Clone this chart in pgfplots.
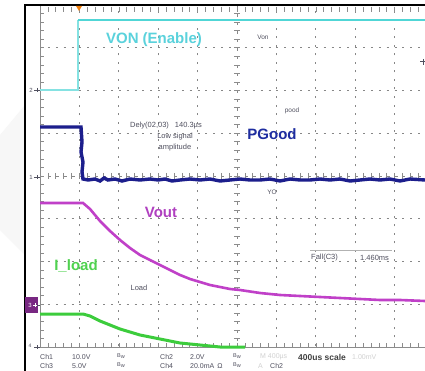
\documentclass[border=0pt]{standalone}
\usepackage{pgfplots}
\pgfplotsset{compat=1.18}
\usepackage{fontspec}
\setmainfont{Liberation Sans}
\definecolor{cyantr}{RGB}{80,214,214}
\definecolor{cyanlbl}{RGB}{90,210,220}
\definecolor{navytr}{RGB}{28,30,140}
\definecolor{navylbl}{RGB}{30,45,160}
\definecolor{magtr}{RGB}{192,64,200}
\definecolor{maglbl}{RGB}{176,64,192}
\definecolor{greentr}{RGB}{60,204,60}
\definecolor{greenlbl}{RGB}{80,210,80}
\definecolor{gridc}{RGB}{135,135,135}
\definecolor{axc}{RGB}{140,140,140}
\definecolor{txt}{RGB}{80,80,95}
\definecolor{boxpurple}{RGB}{120,40,130}
\begin{document}
\begin{tikzpicture}
\useasboundingbox (0pt,0pt) rectangle (425pt,-371pt);
\fill[white] (0pt,0pt) rectangle (425pt,-371pt);
\begin{scope}[x=1pt,y=-1pt]
  % faint background shading at left
  \fill[black!3] (0,135) -- (25,105) -- (25,255) -- (0,230) -- cycle;
  % dotted grid
  \foreach \i in {1,2,3,4,6,7,8,9} {
    \draw[gridc, line width=1pt, dash pattern=on 2pt off 6.55pt] ({40+39.4*\i},346) -- ({40+39.4*\i},5);
  }
  \foreach \j in {1,2,3,5,6,7} {
    \draw[gridc, line width=1pt, dash pattern=on 2pt off 5.88pt] (40,{347-42.75*\j}) -- (425,{347-42.75*\j});
  }
  % center lines
  \draw[gridc, line width=0.7pt, dash pattern=on 3pt off 5.55pt] (237,5) -- (237,347);
  \draw[gridc, line width=0.7pt, dash pattern=on 3pt off 4.88pt] (40,176) -- (425,176);
  \foreach \k in {0,...,40} {
    \draw[axc, line width=0.6pt] (234,{347-8.55*\k}) -- (240,{347-8.55*\k});
  }
  \foreach \k in {0,...,49} {
    \draw[axc, line width=0.6pt] ({40+7.88*\k},173) -- ({40+7.88*\k},179);
  }
  % frame edges of grid
  \draw[axc, line width=0.7pt] (40,5) -- (40,347);
  \draw[axc, line width=0.7pt] (40,347) -- (425,347);
  \foreach \k in {0,...,40} {
    \draw[axc, line width=0.6pt] (40,{347-8.55*\k}) -- (44,{347-8.55*\k});
  }
  \foreach \k in {0,...,49} {
    \draw[axc, line width=0.6pt] ({40+7.88*\k},347) -- ({40+7.88*\k},343);
    \draw[axc, line width=0.6pt] ({40+7.88*\k},7) -- ({40+7.88*\k},12);
  }
  % outer black frame
  \draw[black, line width=2pt] (25,371) -- (25,5) -- (425,5);
  % trigger marker
  \fill[orange!80!brown] (76,6) -- (82,6) -- (79,11) -- cycle;
\end{scope}

\begin{axis}[at={(40pt,-347pt)}, anchor=south west, scale only axis,
  width=385pt, height=342pt, xmin=40, xmax=425, ymin=0, ymax=342,
  hide axis, clip=false]
% VON (Enable)
\addplot[cyantr!70, line width=1.4pt] coordinates {(40,257) (78,257) (78,327)};
\addplot[cyantr, line width=2.6pt] coordinates {(78,327) (425,327)};
% PGood
\addplot[navytr, line width=3.4pt] coordinates {
(40,220) (81,220) (82,205) (81,195) (83,185) (82,175) (83,168) (88,167) (95,168)
(100,166) (104,169) (108,167) (115,168) (122,166) (130,168) (140,167) (150,168)
(158,167) (165,168) (172,166) (180,167) (190,168) (200,167) (210,168) (220,166)
(230,167) (240,168) (250,167) (260,167) (270,168) (280,166) (290,168) (300,167)
(310,167) (320,168) (330,167) (340,168) (350,166) (360,167) (370,168) (380,167)
(390,168) (400,166) (410,168) (425,167)};
% Vout
\addplot[magtr, line width=2.6pt] coordinates {
(40,144) (83,144) (90,138) (100,126) (110,116) (120,107) (130,99) (140,92)
(150,87) (160,82) (170,77) (180,72) (190,68) (200,65) (210,62) (220,60)
(230,58) (240,57) (260,54) (280,52) (300,51) (320,50) (340,49) (360,48)
(380,47) (400,47) (425,46)};
% I_load
\addplot[greentr, line width=3pt] coordinates {
(40,33) (83,33) (90,31) (100,26) (110,22) (120,18) (130,15) (140,12)
(150,10) (160,8) (170,6) (180,4) (190,3) (200,2) (210,1) (220,0) (245,0)};
\end{axis}

\begin{scope}[x=1pt,y=-1pt]
  % channel markers
  \node[font=\fontsize{6}{6}\selectfont, text=txt] at (31,90) {2};
  \draw[txt, line width=0.6pt] (34,90) -- (40,90); \draw[txt, line width=0.6pt] (37,88) -- (37,92);
  \node[font=\fontsize{6}{6}\selectfont, text=txt] at (31,177) {1};
  \draw[txt, line width=0.6pt] (34,177) -- (40,177); \draw[txt, line width=0.6pt] (37,175) -- (37,179);
  \fill[boxpurple] (25,297) rectangle (38,313);
  \node[font=\fontsize{6}{6}\selectfont, text=white] at (30,305) {3};
  \draw[white, line width=0.6pt] (33,305) -- (37,305); \draw[white, line width=0.6pt] (35,303) -- (35,307);
  \draw[txt, line width=0.6pt] (37,305) -- (40,305);
  \node[font=\fontsize{5}{5}\selectfont, text=txt] at (30,346) {4};
  \draw[txt, line width=0.6pt] (34,347) -- (40,347); \draw[txt, line width=0.6pt] (37,345) -- (37,349);
  \draw[txt, line width=1pt] (420,62) -- (425,62); \draw[txt, line width=1pt] (423,59) -- (423,65);
  % big labels
  \node[font=\fontsize{15}{15}\selectfont\bfseries, text=cyanlbl] at (154,40) {VON (Enable)};
  \node[font=\fontsize{15}{15}\selectfont\bfseries, text=navylbl] at (272,134) {PGood};
  \node[font=\fontsize{15}{15}\selectfont\bfseries, text=maglbl] at (161,212) {Vout};
  \node[font=\fontsize{15}{15}\selectfont\bfseries, text=greenlbl] at (76,266) {I\_load};
  % small labels
  \node[font=\fontsize{6.5}{6.5}\selectfont, text=txt] at (263,37) {Von};
  \node[font=\fontsize{6.5}{6.5}\selectfont, text=txt] at (292,111) {pood};
  \node[font=\fontsize{7.5}{7.5}\selectfont, text=txt, anchor=west, inner sep=0pt] at (130,126) {Dely(02,03)\hspace{6pt}140.3µs};
  \node[font=\fontsize{7.5}{7.5}\selectfont, text=txt] at (175,137) {Low signal};
  \node[font=\fontsize{7.5}{7.5}\selectfont, text=txt] at (175,148) {amplitude};
  \node[font=\fontsize{6.5}{6.5}\selectfont, text=txt] at (272,192) {YO};
  \node[font=\fontsize{7.5}{7.5}\selectfont, text=txt] at (139,288) {Load};
  \draw[gray!60, line width=0.5pt] (310,250) -- (392,250);
  \node[font=\fontsize{7.5}{7.5}\selectfont, text=txt, anchor=west, inner sep=0pt] at (311,258) {Fall(C3)};
  \node[font=\fontsize{7.5}{7.5}\selectfont, text=txt, anchor=west, inner sep=0pt] at (360,258) {1.460ms};
  % bottom readout
  \begin{scope}[every node/.style={font=\fontsize{7}{7}\selectfont, text=txt, anchor=west, inner sep=0pt}]
    \node at (40,357) {Ch1};
    \node at (72,357) {10.0V};
    \node[font=\fontsize{5.5}{5.5}\selectfont] at (117,356) {B\raisebox{-1pt}{w}};
    \node at (160,357) {Ch2};
    \node at (190,357) {2.0V};
    \node[font=\fontsize{5.5}{5.5}\selectfont] at (233,356) {B\raisebox{-1pt}{w}};
    \node[text=black!18] at (260,357) {M 400µs};
    \node[font=\fontsize{8.5}{8.5}\selectfont\bfseries, text=black!75] at (298,357) {400us scale};
    \node[text=black!18] at (352,357) {1.00mV};
    \node at (40,366) {Ch3};
    \node at (72,366) {5.0V};
    \node[font=\fontsize{5.5}{5.5}\selectfont] at (117,365) {B\raisebox{-1pt}{w}};
    \node at (160,366) {Ch4};
    \node at (190,366) {20.0mA\hspace{3pt}Ω};
    \node[font=\fontsize{5.5}{5.5}\selectfont] at (233,365) {B\raisebox{-1pt}{w}};
    \node[text=black!18] at (258,366) {A};
    \node at (270,366) {Ch2};
  \end{scope}
\end{scope}
\end{tikzpicture}
\end{document}
